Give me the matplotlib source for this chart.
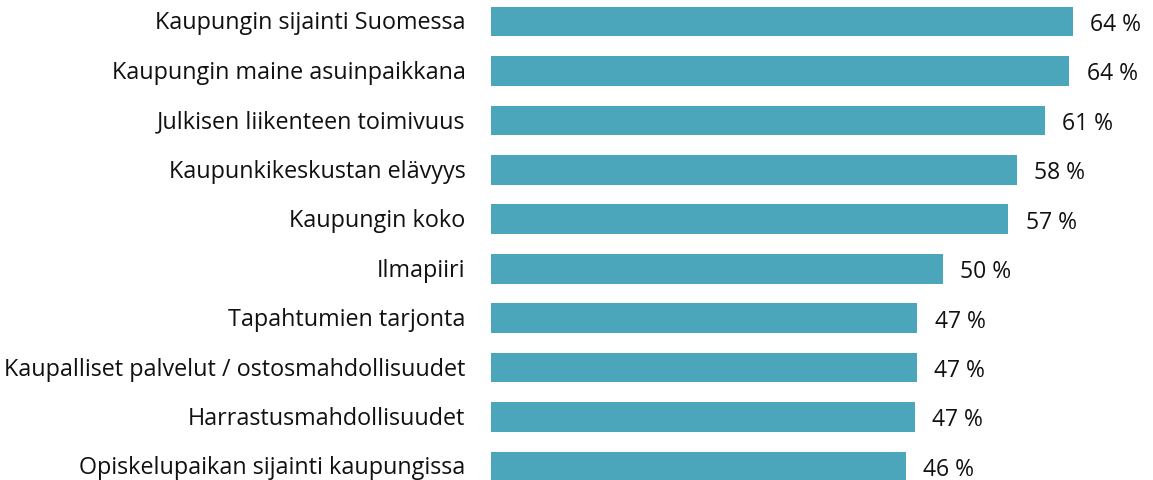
import matplotlib
matplotlib.use('Agg')
import matplotlib.pyplot as plt
import numpy as np

# Data
kategoriat = [
    "Kaupungin sijainti Suomessa",
    "Kaupungin maine asuinpaikkana",
    "Julkisen liikenteen toimivuus",
    "Kaupunkikeskustan elävyys",
    "Kaupungin koko",
    "Ilmapiiri",
    "Tapahtumien tarjonta",
    "Kaupalliset palvelut / ostosmahdollisuudet",
    "Harrastusmahdollisuudet",
    "Opiskelupaikan sijainti kaupungissa",
]
arvot = [64.0, 63.6, 60.9, 57.8, 56.9, 49.7, 46.9, 46.8, 46.6, 45.6]

W, H = 1153, 481
fig = plt.figure(figsize=(W / 100, H / 100), dpi=100)
plt.rcParams['font.family'] = ['Open Sans', 'DejaVu Sans']

# axes placed in pixel terms
vasen = 491 / W
ax = fig.add_axes([vasen, 0, 1 - vasen, 1])

y = np.arange(len(kategoriat))
ax.barh(y, arvot, height=0.6, color='#4BA6BC')

vali = 49.44
yla = -22.5 / vali
ala = (H - 22.5) / vali
ax.set_ylim(ala, yla)
ax.set_xlim(0, 64.0 * (W - 491) / 582)

for yi, v in zip(y, arvot):
    ax.text(v + 1.9, yi + 0.05, f"{v:.0f} %", va='center', ha='left',
            fontsize=16.5, color='#111111')

for yi, k in zip(y, kategoriat):
    ax.text(-2.8, yi + 0.02, k, va='center', ha='right', fontsize=16.8,
            color='#111111')

ax.axis('off')
fig.savefig('out.png', dpi=100)
